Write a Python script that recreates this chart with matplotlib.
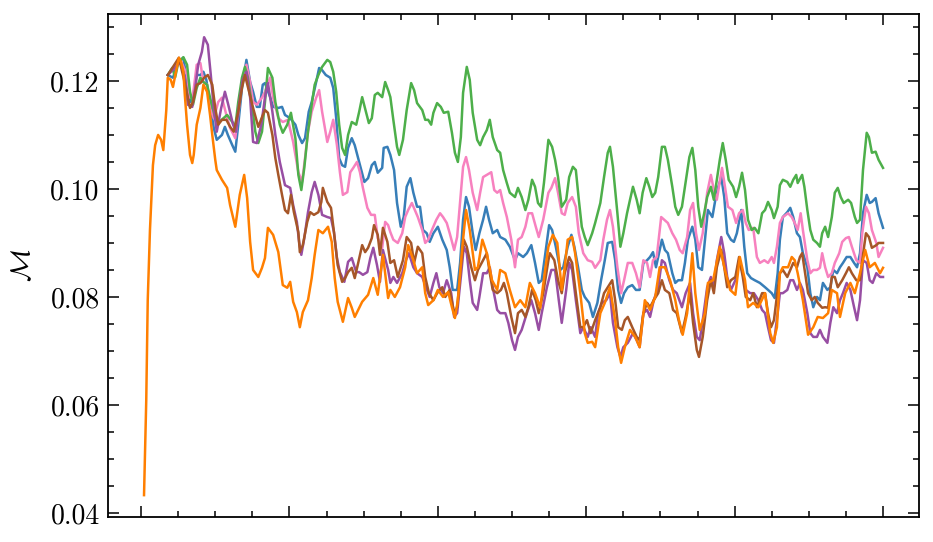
import numpy as np
import matplotlib
matplotlib.use("Agg")
import matplotlib.pyplot as plt
from matplotlib.ticker import MultipleLocator, NullFormatter

plt.rcParams["font.family"] = "serif"
plt.rcParams["font.serif"] = ["cmr10"]
plt.rcParams["mathtext.fontset"] = "cm"
plt.rcParams["axes.formatter.use_mathtext"] = True

# (step, M) pairs, one list per run
blue = [(36, 0.1211), (43, 0.1206), (50, 0.1235), (57, 0.1243), (62, 0.1198), (66, 0.1161), (70, 0.1170), (75, 0.1211),
        (80, 0.1211), (84, 0.1217), (88, 0.1202), (93, 0.1156), (98, 0.1113), (102, 0.1091), (109, 0.1100), (113, 0.1115),
        (117, 0.1100), (123, 0.1081), (127, 0.1069), (131, 0.1119), (136, 0.1187), (142, 0.1239), (147, 0.1198), (151, 0.1180),
        (156, 0.1152), (160, 0.1152), (164, 0.1193), (167, 0.1196), (174, 0.1170), (178, 0.1152), (185, 0.1150), (190, 0.1152),
        (194, 0.1137), (201, 0.1131), (208, 0.1119), (212, 0.1100), (217, 0.1085), (221, 0.1094), (226, 0.1143), (230, 0.1161),
        (236, 0.1198), (240, 0.1224), (244, 0.1220), (249, 0.1211), (255, 0.1206), (259, 0.1187), (263, 0.1131), (267, 0.1057),
        (271, 0.1044), (275, 0.1041), (279, 0.1076), (284, 0.1094), (288, 0.1081), (295, 0.1044), (301, 0.1013), (306, 0.1020),
        (311, 0.1044), (315, 0.1050), (319, 0.1030), (325, 0.1039), (327, 0.1076), (332, 0.1078), (336, 0.1063), (341, 0.1035),
        (345, 0.0974), (350, 0.0930), (354, 0.0948), (358, 0.1004), (363, 0.1020), (367, 0.0993), (372, 0.0967), (376, 0.0967),
        (380, 0.0924), (385, 0.0918), (389, 0.0902), (394, 0.0918), (400, 0.0930), (406, 0.0906), (412, 0.0887), (416, 0.0855),
        (420, 0.0813), (426, 0.0813), (430, 0.0863), (434, 0.0943), (438, 0.0985), (442, 0.0967), (447, 0.0918), (451, 0.0887),
        (456, 0.0918), (461, 0.0943), (465, 0.0967), (469, 0.0943), (474, 0.0918), (480, 0.0924), (484, 0.0911), (491, 0.0906),
        (497, 0.0893), (504, 0.0868), (508, 0.0881), (515, 0.0874), (520, 0.0881), (526, 0.0896), (531, 0.0863), (536, 0.0826),
        (540, 0.0831), (546, 0.0893), (550, 0.0933), (554, 0.0924), (559, 0.0893), (565, 0.0850), (569, 0.0855), (575, 0.0893),
        (580, 0.0915), (584, 0.0893), (589, 0.0855), (594, 0.0813), (598, 0.0800), (604, 0.0789), (609, 0.0763), (615, 0.0789),
        (620, 0.0831), (625, 0.0868), (629, 0.0900), (635, 0.0902), (639, 0.0868), (643, 0.0813), (647, 0.0789), (651, 0.0807),
        (656, 0.0818), (662, 0.0822), (667, 0.0813), (672, 0.0813), (677, 0.0863), (682, 0.0868), (686, 0.0874), (690, 0.0883),
        (694, 0.0855), (699, 0.0887), (702, 0.0906), (706, 0.0887), (710, 0.0881), (716, 0.0844), (720, 0.0826), (724, 0.0831),
        (729, 0.0831), (733, 0.0863), (737, 0.0906), (743, 0.0930), (747, 0.0906), (751, 0.0855), (756, 0.0850), (760, 0.0906),
        (764, 0.0961), (770, 0.0948), (774, 0.0980), (778, 0.1004), (782, 0.1022), (786, 0.0985), (790, 0.0918), (795, 0.0906),
        (799, 0.0902), (803, 0.0918), (809, 0.0961), (813, 0.0893), (817, 0.0844), (822, 0.0835), (827, 0.0831), (834, 0.0826),
        (841, 0.0818), (845, 0.0813), (850, 0.0807), (854, 0.0798), (858, 0.0844), (861, 0.0906), (865, 0.0948), (871, 0.0957),
        (875, 0.0965), (879, 0.0948), (884, 0.0918), (888, 0.0911), (892, 0.0881), (898, 0.0855), (902, 0.0807), (906, 0.0781),
        (911, 0.0800), (915, 0.0794), (919, 0.0826), (925, 0.0813), (929, 0.0818), (933, 0.0850), (938, 0.0844), (942, 0.0855),
        (946, 0.0863), (951, 0.0874), (956, 0.0874), (961, 0.0863), (965, 0.0855), (969, 0.0881), (973, 0.0955), (978, 0.0989),
        (982, 0.0974), (985, 0.0976), (990, 0.0983), (994, 0.0955), (1000, 0.0928)]

pink = [(39, 0.1215), (53, 0.1239), (62, 0.1211), (66, 0.1169), (70, 0.1174), (75, 0.1230), (80, 0.1233), (84, 0.1198),
        (89, 0.1193), (93, 0.1150), (98, 0.1131), (104, 0.1161), (109, 0.1169), (115, 0.1137), (120, 0.1113), (127, 0.1094),
        (132, 0.1150), (136, 0.1193), (142, 0.1230), (147, 0.1198), (151, 0.1161), (156, 0.1156), (163, 0.1169), (167, 0.1180),
        (174, 0.1206), (178, 0.1169), (185, 0.1131), (191, 0.1124), (198, 0.1128), (205, 0.1087), (212, 0.1031), (217, 0.1013),
        (221, 0.1057), (225, 0.1106), (230, 0.1143), (236, 0.1169), (240, 0.1183), (244, 0.1143), (251, 0.1087), (255, 0.1106),
        (259, 0.1128), (264, 0.1081), (268, 0.1031), (272, 0.0989), (278, 0.0994), (282, 0.1031), (286, 0.1039), (291, 0.1050),
        (295, 0.1031), (299, 0.1002), (305, 0.0965), (310, 0.0952), (315, 0.0952), (319, 0.0909), (325, 0.0891), (329, 0.0939),
        (333, 0.0933), (336, 0.0920), (340, 0.0906), (346, 0.0900), (352, 0.0918), (356, 0.0948), (360, 0.0961), (365, 0.0974),
        (369, 0.0961), (373, 0.0948), (379, 0.0924), (383, 0.0900), (387, 0.0906), (392, 0.0924), (398, 0.0943), (403, 0.0955),
        (407, 0.0948), (412, 0.0937), (416, 0.0918), (422, 0.0887), (426, 0.0911), (431, 0.0993), (434, 0.1041), (438, 0.1059),
        (442, 0.1035), (447, 0.0993), (453, 0.0961), (457, 0.0993), (461, 0.1022), (466, 0.1026), (472, 0.1031), (476, 0.0998),
        (480, 0.0993), (484, 0.0998), (488, 0.0974), (493, 0.0948), (499, 0.0906), (504, 0.0855), (508, 0.0906), (513, 0.0911),
        (518, 0.0930), (522, 0.0955), (527, 0.0955), (532, 0.0930), (536, 0.0911), (542, 0.0943), (549, 0.0993), (553, 0.1002),
        (558, 0.1020), (562, 0.0993), (567, 0.0955), (571, 0.0952), (575, 0.0974), (581, 0.0985), (586, 0.0967), (590, 0.0918),
        (596, 0.0881), (602, 0.0868), (608, 0.0865), (612, 0.0854), (619, 0.0868), (623, 0.0906), (628, 0.0943), (632, 0.0961),
        (636, 0.0930), (642, 0.0855), (647, 0.0807), (651, 0.0831), (656, 0.0863), (662, 0.0863), (667, 0.0844), (672, 0.0818),
        (677, 0.0868), (682, 0.0863), (686, 0.0837), (690, 0.0868), (695, 0.0874), (701, 0.0948), (705, 0.0943), (710, 0.0937),
        (716, 0.0918), (721, 0.0906), (726, 0.0887), (730, 0.0881), (736, 0.0911), (740, 0.0961), (744, 0.0974), (748, 0.0918),
        (752, 0.0887), (757, 0.0918), (763, 0.0993), (768, 0.1026), (772, 0.0998), (776, 0.0980), (783, 0.1039), (787, 0.1004),
        (791, 0.0967), (797, 0.0961), (802, 0.0937), (806, 0.0955), (811, 0.0961), (815, 0.0937), (819, 0.0924), (825, 0.0928),
        (830, 0.0874), (834, 0.0863), (840, 0.0868), (845, 0.0863), (850, 0.0874), (853, 0.0863), (857, 0.0893), (861, 0.0937),
        (865, 0.0948), (872, 0.0955), (877, 0.0948), (881, 0.0937), (885, 0.0924), (889, 0.0955), (892, 0.0924), (898, 0.0868),
        (902, 0.0844), (906, 0.0850), (911, 0.0850), (915, 0.0854), (918, 0.0881), (922, 0.0855), (926, 0.0837), (931, 0.0844),
        (935, 0.0863), (941, 0.0881), (945, 0.0902), (950, 0.0909), (954, 0.0911), (958, 0.0893), (964, 0.0868), (969, 0.0863),
        (972, 0.0918), (977, 0.0967), (981, 0.0955), (985, 0.0924), (991, 0.0900), (994, 0.0874), (1000, 0.0891)]

green = [(36, 0.1211), (42, 0.1224), (46, 0.1207), (50, 0.1233), (57, 0.1244), (62, 0.1230), (66, 0.1180), (70, 0.1156),
         (75, 0.1187), (80, 0.1206), (84, 0.1198), (89, 0.1193), (93, 0.1169), (100, 0.1131), (104, 0.1122), (111, 0.1131),
         (116, 0.1137), (123, 0.1124), (127, 0.1115), (131, 0.1161), (136, 0.1206), (140, 0.1226), (144, 0.1206), (150, 0.1150),
         (154, 0.1106), (158, 0.1085), (163, 0.1106), (167, 0.1161), (171, 0.1224), (177, 0.1206), (181, 0.1161), (187, 0.1119),
         (191, 0.1104), (197, 0.1119), (202, 0.1141), (208, 0.1094), (212, 0.1026), (216, 0.0998), (220, 0.1039), (225, 0.1106),
         (230, 0.1156), (234, 0.1193), (239, 0.1211), (244, 0.1226), (251, 0.1239), (255, 0.1235), (259, 0.1217), (263, 0.1180),
         (267, 0.1119), (271, 0.1076), (275, 0.1063), (279, 0.1100), (284, 0.1124), (290, 0.1119), (294, 0.1143), (298, 0.1170),
         (303, 0.1143), (307, 0.1122), (311, 0.1131), (315, 0.1174), (319, 0.1178), (325, 0.1170), (329, 0.1198), (333, 0.1183),
         (336, 0.1170), (340, 0.1128), (345, 0.1078), (348, 0.1063), (353, 0.1091), (358, 0.1146), (364, 0.1196), (368, 0.1183),
         (372, 0.1159), (379, 0.1146), (383, 0.1128), (387, 0.1128), (391, 0.1119), (394, 0.1141), (399, 0.1159), (404, 0.1152),
         (408, 0.1141), (414, 0.1143), (419, 0.1104), (423, 0.1067), (427, 0.1050), (431, 0.1096), (434, 0.1178), (439, 0.1226),
         (443, 0.1202), (447, 0.1141), (453, 0.1091), (457, 0.1081), (461, 0.1096), (466, 0.1109), (470, 0.1128), (474, 0.1096),
         (480, 0.1072), (484, 0.1067), (488, 0.1035), (493, 0.1011), (497, 0.0993), (504, 0.0985), (508, 0.1002), (513, 0.0985),
         (518, 0.0961), (522, 0.0980), (527, 0.1017), (531, 0.1004), (535, 0.0974), (539, 0.0967), (543, 0.1011), (549, 0.1091),
         (554, 0.1078), (558, 0.1054), (562, 0.1022), (567, 0.0967), (573, 0.0980), (577, 0.1022), (582, 0.1041), (586, 0.1035),
         (590, 0.0980), (594, 0.0930), (598, 0.0911), (602, 0.0896), (608, 0.0918), (612, 0.0937), (619, 0.0974), (624, 0.1022),
         (629, 0.1067), (632, 0.1078), (636, 0.1041), (642, 0.0955), (646, 0.0893), (650, 0.0918), (655, 0.0955), (659, 0.0980),
         (663, 0.1004), (668, 0.0980), (672, 0.0955), (676, 0.0993), (681, 0.1020), (685, 0.1004), (689, 0.0985), (693, 0.0993),
         (697, 0.1022), (702, 0.1078), (706, 0.1078), (710, 0.1054), (716, 0.1004), (720, 0.0967), (724, 0.0952), (729, 0.0967),
         (733, 0.1004), (739, 0.1059), (743, 0.1076), (747, 0.1035), (751, 0.0967), (755, 0.0930), (759, 0.0955), (763, 0.0985),
         (768, 0.1004), (772, 0.0980), (776, 0.1017), (780, 0.1054), (784, 0.1085), (788, 0.1054), (792, 0.1017), (798, 0.1004),
         (802, 0.0985), (806, 0.1004), (810, 0.1030), (814, 0.0998), (818, 0.0943), (823, 0.0924), (827, 0.0928), (832, 0.0918),
         (837, 0.0955), (841, 0.0961), (845, 0.0976), (850, 0.0961), (853, 0.0946), (858, 0.0967), (861, 0.1007), (865, 0.1017),
         (871, 0.1013), (875, 0.1004), (879, 0.1017), (883, 0.1026), (885, 0.1011), (891, 0.1026), (894, 0.1004), (898, 0.0961),
         (902, 0.0924), (906, 0.0906), (911, 0.0900), (915, 0.0893), (918, 0.0918), (922, 0.0930), (926, 0.0911), (931, 0.0948),
         (935, 0.0993), (939, 0.1002), (943, 0.0985), (947, 0.0974), (953, 0.0980), (957, 0.0974), (962, 0.0948), (965, 0.0937),
         (969, 0.0943), (973, 0.1035), (978, 0.1104), (981, 0.1096), (985, 0.1067), (990, 0.1069), (994, 0.1054), (1000, 0.1039)]

purple = [(36, 0.1211), (53, 0.1235), (59, 0.1206), (63, 0.1156), (69, 0.1152), (73, 0.1187), (77, 0.1230), (82, 0.1254),
          (85, 0.1281), (90, 0.1267), (94, 0.1211), (98, 0.1150), (102, 0.1106), (108, 0.1150), (113, 0.1180), (117, 0.1159),
          (124, 0.1119), (128, 0.1106), (132, 0.1156), (137, 0.1202), (142, 0.1217), (147, 0.1169), (151, 0.1087), (156, 0.1085),
          (162, 0.1119), (167, 0.1169), (171, 0.1196), (177, 0.1143), (181, 0.1100), (187, 0.1050), (194, 0.1007), (201, 0.1002),
          (205, 0.0970), (210, 0.0939), (213, 0.0902), (216, 0.0878), (220, 0.0909), (225, 0.0957), (230, 0.0994), (234, 0.1013),
          (239, 0.0989), (244, 0.0952), (251, 0.0948), (256, 0.0946), (260, 0.0920), (264, 0.0872), (268, 0.0846), (274, 0.0828),
          (279, 0.0865), (284, 0.0872), (290, 0.0846), (294, 0.0846), (299, 0.0841), (305, 0.0846), (309, 0.0872), (313, 0.0891),
          (318, 0.0859), (322, 0.0828), (326, 0.0887), (333, 0.0850), (336, 0.0826), (340, 0.0837), (345, 0.0826), (352, 0.0844),
          (357, 0.0868), (361, 0.0881), (367, 0.0855), (372, 0.0844), (379, 0.0837), (384, 0.0818), (389, 0.0800), (394, 0.0826),
          (398, 0.0844), (402, 0.0818), (407, 0.0807), (412, 0.0831), (418, 0.0807), (422, 0.0763), (426, 0.0770), (431, 0.0837),
          (435, 0.0893), (439, 0.0881), (443, 0.0831), (447, 0.0789), (453, 0.0776), (456, 0.0800), (461, 0.0844), (466, 0.0844),
          (470, 0.0855), (474, 0.0818), (480, 0.0776), (484, 0.0770), (491, 0.0770), (495, 0.0752), (500, 0.0720), (504, 0.0702),
          (508, 0.0726), (513, 0.0739), (520, 0.0770), (526, 0.0794), (531, 0.0770), (536, 0.0739), (540, 0.0770), (547, 0.0818),
          (553, 0.0850), (558, 0.0850), (563, 0.0794), (567, 0.0752), (573, 0.0813), (577, 0.0863), (581, 0.0850), (586, 0.0794),
          (592, 0.0733), (596, 0.0744), (602, 0.0726), (606, 0.0744), (612, 0.0726), (616, 0.0770), (621, 0.0789), (627, 0.0794),
          (632, 0.0807), (636, 0.0752), (642, 0.0707), (646, 0.0689), (650, 0.0707), (656, 0.0715), (663, 0.0733), (668, 0.0720),
          (672, 0.0707), (677, 0.0770), (682, 0.0776), (686, 0.0763), (691, 0.0794), (697, 0.0818), (702, 0.0868), (706, 0.0863),
          (712, 0.0831), (717, 0.0813), (722, 0.0807), (729, 0.0781), (734, 0.0807), (740, 0.0826), (744, 0.0770), (749, 0.0726),
          (753, 0.0720), (757, 0.0757), (763, 0.0818), (768, 0.0837), (772, 0.0818), (776, 0.0868), (782, 0.0911), (786, 0.0881),
          (790, 0.0837), (795, 0.0813), (801, 0.0831), (806, 0.0868), (811, 0.0844), (815, 0.0813), (821, 0.0807), (826, 0.0807),
          (832, 0.0794), (837, 0.0776), (841, 0.0770), (845, 0.0744), (849, 0.0720), (853, 0.0715), (858, 0.0770), (861, 0.0807),
          (865, 0.0807), (871, 0.0813), (875, 0.0831), (879, 0.0831), (884, 0.0813), (888, 0.0826), (892, 0.0813), (898, 0.0770),
          (902, 0.0733), (906, 0.0726), (911, 0.0726), (915, 0.0739), (919, 0.0726), (925, 0.0715), (929, 0.0752), (933, 0.0781),
          (938, 0.0770), (942, 0.0794), (946, 0.0807), (951, 0.0826), (956, 0.0813), (961, 0.0781), (965, 0.0757), (969, 0.0794),
          (973, 0.0868), (978, 0.0863), (982, 0.0831), (986, 0.0826), (991, 0.0844), (996, 0.0837), (1000, 0.0837)]

brown = [(36, 0.1211), (51, 0.1243), (59, 0.1196), (66, 0.1150), (70, 0.1161), (75, 0.1193), (80, 0.1196), (85, 0.1206),
         (90, 0.1211), (96, 0.1193), (100, 0.1150), (104, 0.1119), (109, 0.1128), (115, 0.1128), (120, 0.1115), (125, 0.1106),
         (131, 0.1143), (136, 0.1187), (140, 0.1211), (144, 0.1189), (151, 0.1150), (158, 0.1115), (163, 0.1133), (167, 0.1146),
         (171, 0.1141), (177, 0.1100), (181, 0.1057), (185, 0.1026), (190, 0.0989), (194, 0.0961), (198, 0.0955), (202, 0.0989),
         (206, 0.0957), (212, 0.0920), (214, 0.0883), (218, 0.0896), (224, 0.0939), (228, 0.0957), (233, 0.0952), (239, 0.0957),
         (243, 0.0976), (245, 0.1002), (251, 0.0976), (256, 0.0965), (260, 0.0920), (265, 0.0859), (271, 0.0828), (275, 0.0835),
         (279, 0.0846), (284, 0.0854), (288, 0.0835), (292, 0.0859), (298, 0.0896), (302, 0.0883), (306, 0.0891), (311, 0.0909),
         (314, 0.0933), (319, 0.0915), (322, 0.0878), (326, 0.0928), (332, 0.0902), (336, 0.0863), (341, 0.0868), (346, 0.0837),
         (353, 0.0868), (358, 0.0911), (364, 0.0900), (368, 0.0863), (373, 0.0893), (379, 0.0881), (383, 0.0837), (388, 0.0807),
         (394, 0.0794), (399, 0.0807), (406, 0.0818), (410, 0.0800), (416, 0.0813), (422, 0.0770), (426, 0.0781), (431, 0.0855),
         (435, 0.0906), (439, 0.0893), (445, 0.0855), (450, 0.0831), (454, 0.0850), (461, 0.0868), (466, 0.0881), (470, 0.0844),
         (474, 0.0813), (480, 0.0807), (485, 0.0813), (489, 0.0826), (493, 0.0807), (499, 0.0763), (504, 0.0733), (508, 0.0770),
         (513, 0.0776), (518, 0.0763), (522, 0.0781), (527, 0.0813), (532, 0.0794), (536, 0.0770), (542, 0.0807), (549, 0.0868),
         (551, 0.0881), (557, 0.0868), (562, 0.0831), (567, 0.0807), (571, 0.0844), (577, 0.0874), (581, 0.0863), (586, 0.0807),
         (592, 0.0744), (596, 0.0744), (601, 0.0757), (606, 0.0733), (612, 0.0757), (619, 0.0781), (624, 0.0807), (629, 0.0818),
         (635, 0.0831), (639, 0.0794), (643, 0.0744), (648, 0.0739), (652, 0.0757), (656, 0.0763), (662, 0.0744), (668, 0.0726),
         (672, 0.0720), (677, 0.0770), (682, 0.0789), (686, 0.0781), (691, 0.0794), (697, 0.0807), (702, 0.0831), (706, 0.0813),
         (712, 0.0807), (717, 0.0776), (722, 0.0770), (729, 0.0733), (734, 0.0763), (740, 0.0807), (744, 0.0752), (749, 0.0702),
         (752, 0.0689), (757, 0.0726), (763, 0.0794), (768, 0.0831), (772, 0.0807), (776, 0.0855), (782, 0.0887), (786, 0.0855),
         (790, 0.0818), (795, 0.0831), (801, 0.0837), (806, 0.0874), (811, 0.0837), (815, 0.0800), (821, 0.0794), (825, 0.0807),
         (830, 0.0781), (837, 0.0807), (841, 0.0807), (845, 0.0770), (849, 0.0744), (853, 0.0757), (858, 0.0813), (861, 0.0844),
         (865, 0.0850), (871, 0.0837), (875, 0.0850), (879, 0.0863), (884, 0.0855), (888, 0.0874), (891, 0.0881), (895, 0.0844),
         (899, 0.0807), (904, 0.0794), (908, 0.0800), (912, 0.0789), (918, 0.0780), (922, 0.0781), (926, 0.0780), (931, 0.0837),
         (935, 0.0837), (939, 0.0818), (945, 0.0831), (950, 0.0844), (954, 0.0855), (958, 0.0844), (964, 0.0831), (969, 0.0831),
         (972, 0.0868), (977, 0.0918), (981, 0.0911), (985, 0.0891), (991, 0.0896), (994, 0.0900), (1000, 0.0900)]

orange = [(4, 0.0433), (7, 0.0609), (9, 0.0794), (12, 0.0924), (16, 0.1044), (19, 0.1081), (23, 0.1100), (27, 0.1091),
          (30, 0.1072), (34, 0.1146), (36, 0.1206), (40, 0.1202), (43, 0.1189), (47, 0.1217), (51, 0.1243), (54, 0.1235),
          (57, 0.1217), (59, 0.1174), (62, 0.1119), (66, 0.1063), (69, 0.1048), (71, 0.1063), (75, 0.1119), (80, 0.1150),
          (84, 0.1193), (89, 0.1180), (93, 0.1137), (96, 0.1100), (100, 0.1054), (102, 0.1035), (109, 0.1017), (116, 0.1002),
          (120, 0.0970), (127, 0.0930), (133, 0.0989), (139, 0.1026), (143, 0.0983), (147, 0.0902), (151, 0.0850), (158, 0.0837),
          (163, 0.0854), (167, 0.0872), (171, 0.0928), (178, 0.0915), (185, 0.0883), (191, 0.0822), (197, 0.0817), (201, 0.0828),
          (205, 0.0791), (210, 0.0772), (214, 0.0744), (218, 0.0772), (225, 0.0794), (230, 0.0835), (234, 0.0878), (239, 0.0924),
          (245, 0.0918), (252, 0.0930), (257, 0.0902), (261, 0.0835), (265, 0.0791), (272, 0.0754), (279, 0.0798), (284, 0.0780),
          (288, 0.0763), (298, 0.0791), (306, 0.0804), (313, 0.0835), (319, 0.0804), (326, 0.0878), (333, 0.0798), (336, 0.0813),
          (342, 0.0800), (349, 0.0818), (356, 0.0855), (360, 0.0896), (367, 0.0868), (372, 0.0844), (379, 0.0855), (383, 0.0807),
          (387, 0.0785), (394, 0.0794), (400, 0.0813), (407, 0.0800), (414, 0.0809), (419, 0.0781), (423, 0.0761), (427, 0.0794),
          (433, 0.0893), (438, 0.0961), (443, 0.0924), (450, 0.0850), (454, 0.0855), (460, 0.0906), (466, 0.0881), (473, 0.0831),
          (480, 0.0813), (484, 0.0850), (491, 0.0844), (497, 0.0813), (504, 0.0781), (511, 0.0794), (518, 0.0781), (524, 0.0826),
          (531, 0.0807), (538, 0.0780), (544, 0.0844), (549, 0.0893), (555, 0.0915), (561, 0.0900), (567, 0.0813), (571, 0.0855),
          (575, 0.0906), (581, 0.0911), (585, 0.0881), (592, 0.0807), (598, 0.0733), (602, 0.0715), (608, 0.0717), (612, 0.0707),
          (619, 0.0770), (625, 0.0789), (632, 0.0818), (639, 0.0757), (643, 0.0707), (647, 0.0678), (652, 0.0707), (659, 0.0739),
          (666, 0.0726), (672, 0.0707), (679, 0.0794), (686, 0.0776), (693, 0.0800), (699, 0.0855), (706, 0.0855), (713, 0.0831),
          (720, 0.0794), (725, 0.0757), (730, 0.0730), (736, 0.0770), (743, 0.0881), (747, 0.0807), (753, 0.0739), (760, 0.0770),
          (764, 0.0826), (771, 0.0831), (780, 0.0893), (787, 0.0850), (794, 0.0813), (801, 0.0804), (807, 0.0874), (814, 0.0831),
          (818, 0.0781), (825, 0.0789), (832, 0.0781), (841, 0.0807), (848, 0.0733), (852, 0.0715), (857, 0.0744), (861, 0.0844),
          (865, 0.0855), (872, 0.0855), (877, 0.0874), (881, 0.0868), (885, 0.0844), (892, 0.0794), (899, 0.0730), (906, 0.0744),
          (912, 0.0763), (919, 0.0761), (926, 0.0770), (931, 0.0813), (938, 0.0807), (942, 0.0763), (949, 0.0807), (956, 0.0826),
          (962, 0.0807), (969, 0.0844), (976, 0.0887), (982, 0.0855), (989, 0.0863), (996, 0.0844), (1000, 0.0854)]

runs = [
    (blue, "#377eb8"),
    (pink, "#f781bf"),
    (green, "#4daf4a"),
    (purple, "#984ea3"),
    (brown, "#a65628"),
    (orange, "#ff7f00"),
]

fig = plt.figure(figsize=(9.33, 5.42), dpi=100)
ax = fig.add_axes([0.1158, 0.0461, 0.8692, 0.9281])

for pts, color in runs:
    arr = np.array(pts)
    ax.plot(arr[:, 0], arr[:, 1], color=color, lw=1.8)

ax.set_xlim(-44.5, 1048.5)
ax.set_ylim(0.03925, 0.1324)

ax.xaxis.set_major_locator(MultipleLocator(200))
ax.xaxis.set_minor_locator(MultipleLocator(50))
ax.xaxis.set_major_formatter(NullFormatter())
ax.yaxis.set_major_locator(MultipleLocator(0.02))
ax.yaxis.set_minor_locator(MultipleLocator(0.005))
ax.yaxis.set_major_formatter(plt.FuncFormatter(lambda v, p: f"{v:.2f}"))

ax.tick_params(which="both", direction="in", top=True, right=True, width=1.1)
ax.tick_params(which="major", length=8, labelsize=20, pad=6)
ax.tick_params(which="minor", length=4.5)
for s in ax.spines.values():
    s.set_linewidth(1.3)

ax.set_ylabel(r"$\mathcal{M}$", fontsize=20, labelpad=10)

fig.savefig("out.png", dpi=100)
